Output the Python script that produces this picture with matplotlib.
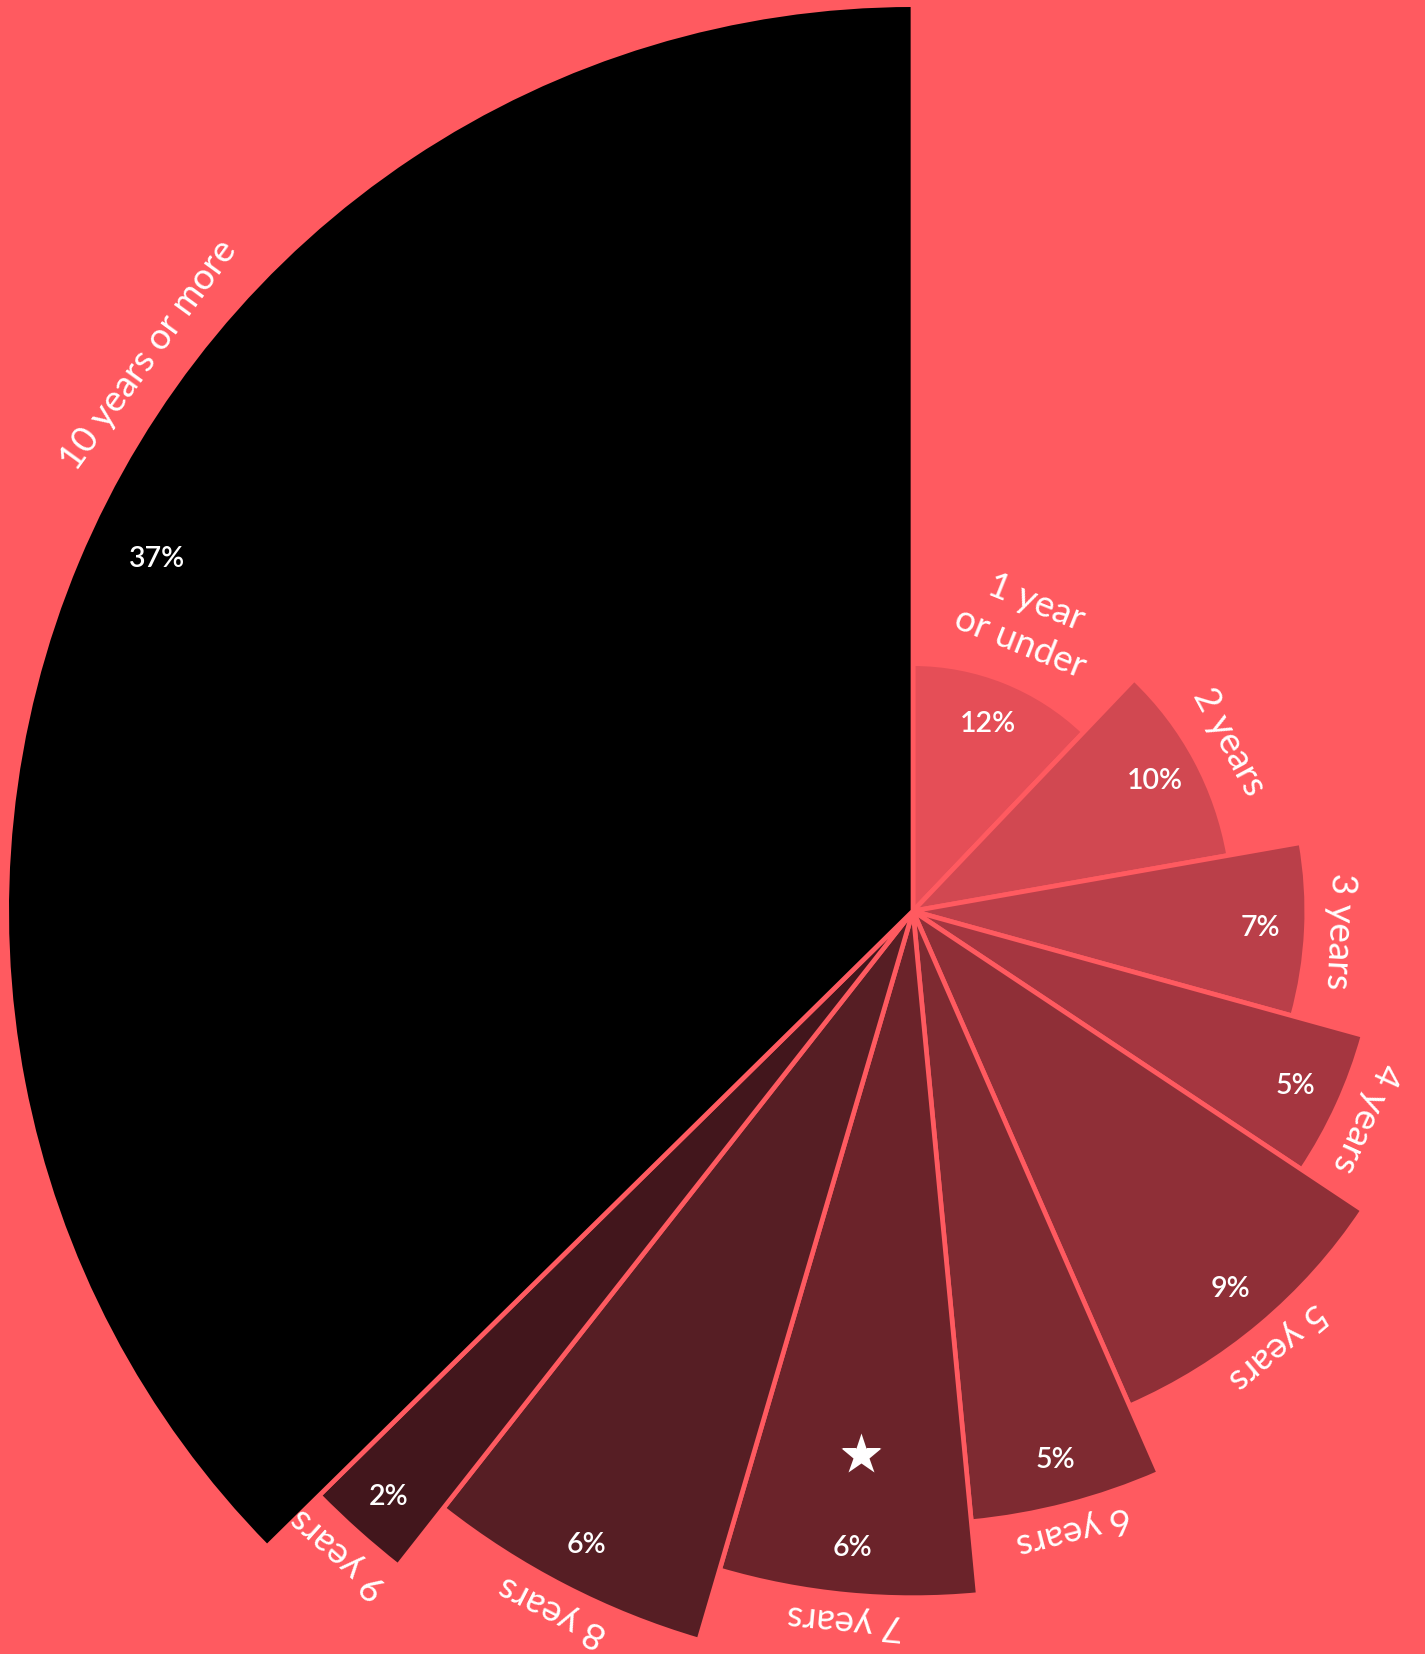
import numpy as np
import matplotlib
matplotlib.use("Agg")
import matplotlib.pyplot as plt

# ---------------- data ----------------
categories = ["1 year\nor under", "2 years", "3 years", "4 years", "5 years",
              "6 years", "7 years", "8 years", "9 years", "10 years or more"]
values = [12, 10, 7, 5, 9, 5, 6, 6, 2, 37]
colors = ["#E54E57", "#D14851", "#BA3F49", "#A53640", "#8F2F37",
          "#7E2A31", "#6B232A", "#561E24", "#42161C", "#000000"]
highlight = "7 years"

# ---------------- style / layout ----------------
BG = "#FF5A60"
W, H = 1425, 1654
DPI = 100
CX, CY = 913, 911          # chart centre in pixels (from top-left)
R_MIN, R_MAX = 245, 904    # outer radius of first and last slice (px)
AX_R = 960                 # radius of the polar axes (px)
GAP_PT = 3.4               # separating stroke width (pt)
LABEL_OFF = 26             # baseline offset of category labels (px)
LABEL_UP = 8               # extra upward screen shift of labels (px)
LINE_GAP = 43              # spacing between label lines (px)
PCT_OFF = 44               # distance of percent label inside the outer arc (px)
STAR_OFF = 138             # distance of the star inside the outer arc (px)
label_angle_override = {"10 years or more": 306.0}
pct_angle_override = {"10 years or more": 295.0}
pct_off_override = {"10 years or more": 70}

LABEL_FONT = dict(family=["Lato", "DejaVu Sans"], weight="normal", size=26.5)
PCT_FONT = dict(family=["Lato", "DejaVu Sans"], weight="semibold", size=20.5)

fig = plt.figure(figsize=(W / DPI, H / DPI), dpi=DPI)
fig.patch.set_facecolor(BG)
rect = [(CX - AX_R) / W, (H - CY - AX_R) / H, 2 * AX_R / W, 2 * AX_R / H]
ax = fig.add_axes(rect, projection="polar")
ax.set_theta_zero_location("N")
ax.set_theta_direction(-1)
ax.set_ylim(0, AX_R)
ax.set_axis_off()

vals = np.array(values, dtype=float)
total = vals.sum()
widths = vals / total * 2 * np.pi
starts = np.concatenate([[0], np.cumsum(widths)[:-1]])
mids = starts + widths / 2
n = len(values)
radii = R_MIN + (R_MAX - R_MIN) * np.arange(n) / (n - 1)
gap_px = GAP_PT * DPI / 72

ax.bar(mids, radii + gap_px / 2, width=widths, bottom=0, align="center",
       color=colors, edgecolor=BG, linewidth=GAP_PT, zorder=2)

for cat, v, mid, r in zip(categories, values, mids, radii):
    key = cat.replace("\n", " ")
    ang_deg = label_angle_override.get(key, np.degrees(mid))
    th = np.radians(ang_deg)
    off = LABEL_OFF + LABEL_UP * np.cos(th)
    lines = cat.split("\n")
    for k, line in enumerate(reversed(lines)):
        ax.text(th, r + off + k * LINE_GAP, line, rotation=-ang_deg,
                rotation_mode="anchor", ha="center", va="baseline",
                color="white", zorder=5, **LABEL_FONT)
    pth = np.radians(pct_angle_override.get(key, np.degrees(mid)))
    pr = r - pct_off_override.get(key, PCT_OFF)
    ax.text(pth, pr, f"{v}%", ha="center", va="center", color="white",
            zorder=5, **PCT_FONT)
    if key == highlight:
        ax.plot([mid], [r - STAR_OFF], marker="*", markersize=31, color="white",
                markeredgecolor="none", zorder=6)

fig.savefig("out.png", dpi=DPI, facecolor=BG)
